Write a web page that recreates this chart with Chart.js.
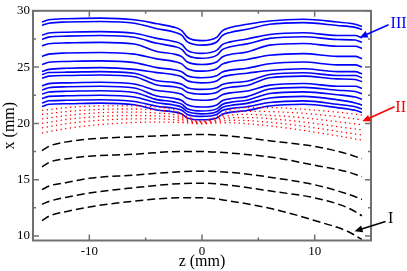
<!DOCTYPE html>
<html>
<head>
<meta charset="utf-8">
<script src="https://cdn.jsdelivr.net/npm/chart.js@4.4.0/dist/chart.umd.min.js"></script>
<style>
  html, body { margin: 0; padding: 0; background: #fff; }
</style>
</head>
<body>
<canvas id="profileChart" width="407" height="271"></canvas>
<script>
// z positions (mm) at which the curves were read
const zBlue = [-14.2, -13.6, -12, -9, -6, -4, -2.5, -1.8, -1.3, 0, 1.3, 1.8, 2.5, 4, 6, 9, 12, 13.6, 14.2];
const zRed = [-14.2, -12, -9, -6, -4, -2.5, -1.5, 0, 1.5, 2.5, 4, 6, 9, 12, 14.2];
const zBlack = [-14.2, -13.5, -12, -10, -6.2, -2, 0, 2.5, 6.5, 10, 12.9, 14.2];

// region III (solid blue)
const blueLines = [
    [29.0, 29.2, 29.3, 29.35, 29.2, 28.85, 28.55, 28.25, 27.65, 27.35, 27.64, 28.22, 28.51, 28.8, 29.1, 29.25, 29.0, 28.81, 28.61],
    [28.7, 28.9, 29.0, 29.05, 28.9, 28.41, 28.12, 27.83, 27.24, 26.95, 27.23, 27.8, 28.08, 28.36, 28.8, 28.95, 28.7, 28.53, 28.33],
    [27.83, 28.03, 28.1, 28.15, 28.0, 27.55, 27.28, 27.02, 26.49, 26.22, 26.48, 26.99, 27.24, 27.5, 27.9, 28.05, 27.8, 27.8, 27.6],
    [27.46, 27.66, 27.75, 27.8, 27.65, 27.11, 26.84, 26.58, 26.05, 25.78, 26.04, 26.55, 26.8, 27.06, 27.55, 27.7, 27.45, 27.4, 27.2],
    [26.88, 27.08, 27.15, 27.2, 27.05, 26.39, 26.16, 25.93, 25.46, 25.23, 25.45, 25.9, 26.12, 26.34, 26.95, 27.1, 26.85, 26.85, 26.65],
    [25.95, 26.15, 26.25, 26.3, 26.15, 25.73, 25.51, 25.29, 24.86, 24.64, 24.85, 25.26, 25.47, 25.68, 26.05, 26.2, 25.95, 25.95, 25.75],
    [25.23, 25.43, 25.5, 25.55, 25.4, 24.95, 24.77, 24.59, 24.24, 24.06, 24.23, 24.56, 24.73, 24.9, 25.3, 25.45, 25.2, 25.2, 25.0],
    [24.6, 24.8, 24.9, 24.95, 24.8, 24.51, 24.33, 24.15, 23.78, 23.6, 23.77, 24.12, 24.29, 24.46, 24.7, 24.85, 24.6, 24.6, 24.4],
    [24.32, 24.52, 24.55, 24.6, 24.45, 23.79, 23.64, 23.48, 23.17, 23.02, 23.16, 23.45, 23.6, 23.74, 24.35, 24.5, 24.25, 24.25, 24.05],
    [24.0, 24.2, 24.25, 24.3, 24.15, 23.41, 23.25, 23.09, 22.76, 22.6, 22.75, 23.06, 23.21, 23.36, 24.05, 24.2, 23.95, 23.9, 23.7],
    [23.33, 23.53, 23.6, 23.65, 23.5, 22.92, 22.75, 22.58, 22.23, 22.06, 22.22, 22.55, 22.71, 22.87, 23.4, 23.55, 23.3, 23.3, 23.1],
    [22.96, 23.16, 23.25, 23.3, 23.15, 22.43, 22.23, 22.04, 21.65, 21.45, 21.64, 22.01, 22.19, 22.38, 23.05, 23.2, 22.95, 22.83, 22.63],
    [22.59, 22.79, 22.85, 22.9, 22.75, 22.11, 21.91, 21.71, 21.3, 21.1, 21.29, 21.68, 21.87, 22.06, 22.65, 22.8, 22.55, 22.34, 22.14],
    [22.2, 22.4, 22.45, 22.5, 22.35, 21.83, 21.63, 21.44, 21.05, 20.85, 21.04, 21.41, 21.59, 21.78, 22.25, 22.4, 22.1, 21.82, 21.62],
    [21.81, 22.01, 22.05, 22.1, 21.95, 21.53, 21.35, 21.17, 20.8, 20.62, 20.79, 21.14, 21.31, 21.48, 21.85, 22.0, 21.7, 21.47, 21.27],
    [21.5, 21.7, 21.75, 21.8, 21.65, 21.19, 21.02, 20.84, 20.49, 20.32, 20.48, 20.81, 20.98, 21.14, 21.55, 21.7, 21.4, 21.16, 20.96]
];

// region II (dotted red)
const redLines = [
    [21.15, 21.4, 21.55, 21.55, 21.45, 21.2, 20.7, 20.2, 20.7, 21.2, 21.4, 21.4, 21.25, 21.0, 20.75],
    [20.8, 21.05, 21.25, 21.28, 21.18, 21.0, 20.55, 20.15, 20.55, 20.95, 21.08, 21.05, 20.9, 20.6, 20.32],
    [20.4, 20.7, 20.95, 21.0, 20.92, 20.78, 20.43, 20.1, 20.43, 20.72, 20.8, 20.72, 20.5, 20.15, 19.88],
    [20.0, 20.35, 20.62, 20.7, 20.66, 20.56, 20.31, 20.05, 20.31, 20.5, 20.52, 20.42, 20.12, 19.72, 19.42],
    [19.6, 19.98, 20.28, 20.4, 20.4, 20.33, 20.18, 20.0, 20.18, 20.28, 20.25, 20.1, 19.75, 19.3, 18.97],
    [19.15, 19.55, 19.9, 20.08, 20.12, 20.1, 20.05, 19.96, 20.05, 20.06, 19.97, 19.78, 19.38, 18.9, 18.52]
];

// region I (dashed black)
const blackLines = [
    [17.58, 18.0, 18.36, 18.62, 18.8, 18.97, 19.02, 18.88, 18.4, 17.96, 17.29, 16.86],
    [16.13, 16.57, 16.86, 17.09, 17.25, 17.5, 17.5, 17.37, 16.95, 16.28, 15.7, 15.27],
    [14.12, 14.46, 14.75, 15.12, 15.4, 15.7, 15.76, 15.65, 15.15, 14.55, 13.73, 13.25],
    [12.82, 13.1, 13.45, 13.82, 14.27, 14.65, 14.69, 14.5, 13.93, 13.39, 12.52, 11.8],
    [11.37, 11.8, 12.18, 12.58, 13.08, 13.39, 13.4, 13.1, 12.35, 11.37, 10.42, 9.7]
];

const zTicks = [-10, 0, 10];
const zMinorTicks = [-5, 5];
const xTicks = [10, 15, 20, 25, 30];
const xMinorTicks = [12.5, 17.5, 22.5, 27.5];

function toPoints(zs, vs) {
    return vs.map((v, i) => ({ x: zs[i], y: v }));
}

let datasets = [];
blackLines.forEach(line => datasets.push({
    data: toPoints(zBlack, line),
    borderColor: "#000000",
    borderWidth: 1.5,
    borderDash: [8, 4],
    pointRadius: 0,
    cubicInterpolationMode: "monotone"
}));
redLines.forEach(line => datasets.push({
    data: toPoints(zRed, line),
    borderColor: "#ff0000",
    borderWidth: 1.3,
    borderDash: [1.3, 3.4],
    pointRadius: 0,
    cubicInterpolationMode: "monotone"
}));
blueLines.forEach(line => datasets.push({
    data: toPoints(zBlue, line),
    borderColor: "#0000ff",
    borderWidth: 1.6,
    pointRadius: 0,
    cubicInterpolationMode: "monotone"
}));

// frame + inward ticks like the original plot
const frameTicks = {
    id: "frameTicks",
    afterDraw(chart) {
        const ctx = chart.ctx;
        const a = chart.chartArea;
        const sx = chart.scales.x, sy = chart.scales.y;
        ctx.save();
        ctx.strokeStyle = "#707070";
        ctx.lineWidth = 1.5;
        ctx.beginPath();
        zTicks.forEach(v => { const p = sx.getPixelForValue(v); ctx.moveTo(p, a.bottom); ctx.lineTo(p, a.bottom - 6); ctx.moveTo(p, a.top); ctx.lineTo(p, a.top + 6); });
        zMinorTicks.forEach(v => { const p = sx.getPixelForValue(v); ctx.moveTo(p, a.bottom); ctx.lineTo(p, a.bottom - 3); ctx.moveTo(p, a.top); ctx.lineTo(p, a.top + 3); });
        xTicks.forEach(v => { const p = sy.getPixelForValue(v); ctx.moveTo(a.left, p); ctx.lineTo(a.left + 6, p); ctx.moveTo(a.right, p); ctx.lineTo(a.right - 6, p); });
        xMinorTicks.forEach(v => { const p = sy.getPixelForValue(v); ctx.moveTo(a.left, p); ctx.lineTo(a.left + 3, p); ctx.moveTo(a.right, p); ctx.lineTo(a.right - 3, p); });
        ctx.stroke();
        ctx.lineWidth = 2;
        ctx.strokeRect(a.left, a.top, a.right - a.left, a.bottom - a.top);
        ctx.restore();
    }
};

// labels I, II, III with arrows (in data coordinates)
const regionLabels = [
    { text: "III", color: "#0000ff", at: [17.45, 28.87], from: [16.56, 28.76], to: [14.0, 27.63] },
    { text: "II", color: "#ff0000", at: [17.63, 21.42], from: [17.09, 21.48], to: [14.22, 20.18] },
    { text: "I", color: "#000000", at: [16.74, 11.54], from: [16.29, 11.28], to: [13.54, 10.42] }
];

const arrowLabels = {
    id: "arrowLabels",
    afterDraw(chart) {
        const ctx = chart.ctx;
        const sx = chart.scales.x, sy = chart.scales.y;
        ctx.save();
        regionLabels.forEach(l => {
            const x1 = sx.getPixelForValue(l.from[0]), y1 = sy.getPixelForValue(l.from[1]);
            const x2 = sx.getPixelForValue(l.to[0]), y2 = sy.getPixelForValue(l.to[1]);
            const ang = Math.atan2(y2 - y1, x2 - x1);
            ctx.strokeStyle = l.color;
            ctx.fillStyle = l.color;
            ctx.lineWidth = 1.6;
            ctx.beginPath();
            ctx.moveTo(x1, y1);
            ctx.lineTo(x2 - 5 * Math.cos(ang), y2 - 5 * Math.sin(ang));
            ctx.stroke();
            ctx.beginPath();
            ctx.moveTo(x2, y2);
            ctx.lineTo(x2 - 8 * Math.cos(ang) + 3.5 * Math.sin(ang), y2 - 8 * Math.sin(ang) - 3.5 * Math.cos(ang));
            ctx.lineTo(x2 - 8 * Math.cos(ang) - 3.5 * Math.sin(ang), y2 - 8 * Math.sin(ang) + 3.5 * Math.cos(ang));
            ctx.closePath();
            ctx.fill();
            ctx.font = '16px "Liberation Serif", "Times New Roman", serif';
            ctx.textAlign = "center";
            ctx.textBaseline = "middle";
            ctx.fillText(l.text, sx.getPixelForValue(l.at[0]), sy.getPixelForValue(l.at[1]));
        });
        ctx.restore();
    }
};

Chart.defaults.font.family = '"Liberation Serif", "Times New Roman", serif';
Chart.defaults.color = "#000000";

new Chart("profileChart", {
    type: "line",
    data: { datasets: datasets },
    options: {
        responsive: false,
        animation: false,
        layout: { padding: { top: 5, right: 36, left: 0, bottom: 0 } },
        plugins: {
            legend: { display: false },
            tooltip: { enabled: false }
        },
        scales: {
            x: {
                type: "linear",
                min: -15,
                max: 15,
                afterBuildTicks: s => { s.ticks = zTicks.map(v => ({ value: v })); },
                afterFit: s => { s.height = 30.5; },
                grid: { display: false, drawTicks: false },
                border: { display: false },
                ticks: { font: { size: 13 }, padding: 3, maxRotation: 0 },
                title: { display: true, text: "z (mm)", font: { size: 16 }, padding: 0 }
            },
            y: {
                type: "linear",
                min: 9.6,
                max: 30,
                afterBuildTicks: s => { s.ticks = xTicks.map(v => ({ value: v })); },
                afterFit: s => { s.width = 33; },
                grid: { display: false, drawTicks: false },
                border: { display: false },
                ticks: { font: { size: 13 }, padding: 3 },
                title: { display: true, text: "x (mm)", font: { size: 16 }, padding: 0 }
            }
        }
    },
    plugins: [frameTicks, arrowLabels]
});
</script>
</body>
</html>
